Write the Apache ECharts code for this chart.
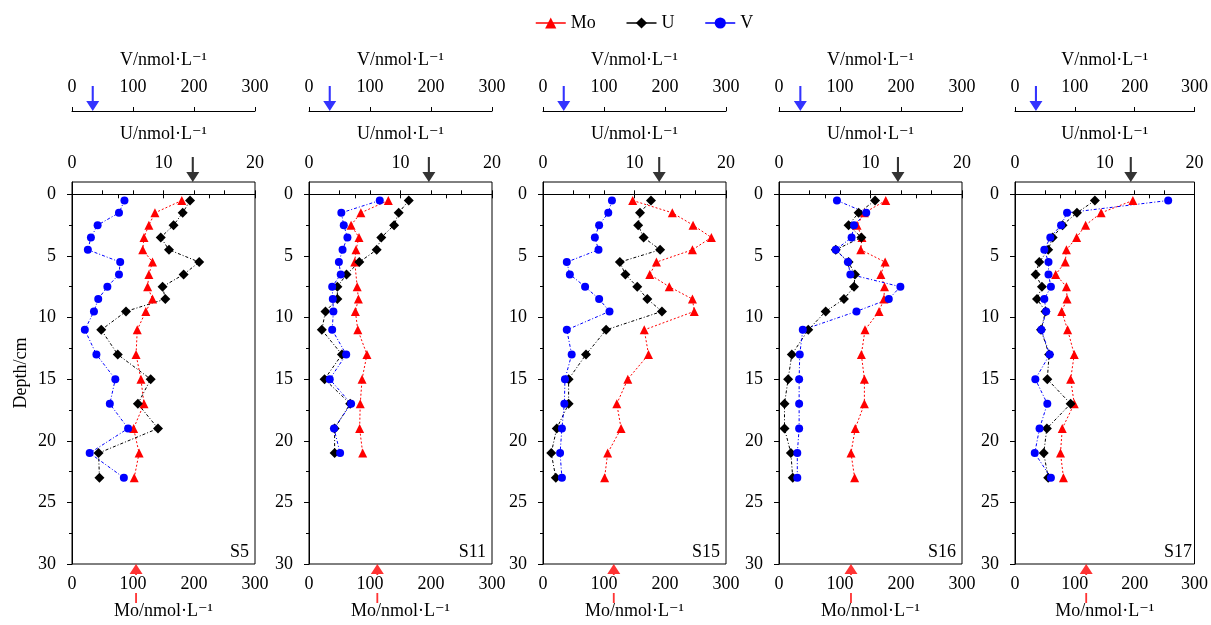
<!DOCTYPE html>
<html>
<head>
<meta charset="utf-8">
<title>Mo, U, V porewater profiles</title>
<script src="https://cdn.jsdelivr.net/npm/echarts@6/dist/echarts.min.js"></script>
<style>
  html, body { margin: 0; padding: 0; background: #fff; }
  #chart { width: 1211px; height: 625px; }
</style>
</head>
<body>
<div id="chart"></div>
<script>
// Stations and sampling depths (cm)
const stations = ['S5', 'S11', 'S15', 'S16', 'S17'];
const depthFull = [0.5, 1.5, 2.5, 3.5, 4.5, 5.5, 6.5, 7.5, 8.5, 9.5, 11, 13, 15, 17, 19, 21, 23];
const depthS11 = [0.5, 1.5, 2.5, 3.5, 4.5, 5.5, 6.5, 7.5, 8.5, 9.5, 11, 13, 15, 17, 19, 21];

// Porewater Mo (nmol/L)
const moS5  = [180, 136, 126, 118, 116, 132, 126, 124, 132, 121, 107, 105, 113, 118, 101, 110, 102];
const moS11 = [130, 85, 69, 82, 77, 75, null, 79, 81, 76, 80, 95, 87, 84, 83, 88];
const moS15 = [147, 212, 246, 276, 245, 186, 175, 207, 245, 248, 166, 173, 139, 121, 128, 106, 101];
const moS16 = [175, 140, 128, 136, 134, 174, 167, 173, 172, 164, 141, 135, 140, 140, 125, 118, 124];
const moS17 = [197, 144, 118, 103, 86, 84, 68, 86, 87, 78, 88, 99, 93, 99, 79, 76, 81];

// Porewater U (nmol/L)
const uS5  = [12.9, 12.1, 11.1, 9.7, 10.6, 13.9, 12.2, 9.9, 10.2, 5.9, 3.2, 5.0, 8.6, 7.2, 9.4, 2.9, 3.0];
const uS11 = [10.9, 9.8, 9.3, 7.9, 7.4, 5.5, 4.1, 3.1, 3.1, 1.8, 1.4, 3.6, 1.7, 4.5, 2.8, 2.8];
const uS15 = [11.8, 10.6, 10.4, 11.0, 12.8, 8.4, 9.0, 10.3, 11.4, 13.0, 6.9, 4.7, 2.8, 2.8, 1.5, 0.9, 1.4];
const uS16 = [10.5, 8.7, 7.6, 9.0, 6.2, 7.6, 8.3, 8.2, 7.1, 5.1, 3.2, 1.4, 1.0, 0.6, 0.6, 1.3, 1.5];
const uS17 = [8.9, 6.9, 5.3, 4.2, 3.7, 2.7, 2.3, 3.0, 2.45, 3.4, 2.9, 3.8, 3.6, 6.2, 3.55, 3.2, 3.7];

// Porewater V (nmol/L)
const vS5  = [86, 77, 42, 31, 26, 79, 77, 58, 43, 36, 21, 40, 71, 62, 92, 29, 85];
const vS11 = [116, 53, 57, 63, 55, 49, 52, 38, 39, 40, 38, 61, 34, 69, 41, 51];
const vS15 = [113, 107, 92, 85, 91, 39, 44, 69, 92, 109, 39, 47, 36, 35, 31, 28, 31];
const vS16 = [95, 143, 123, 119, 93, 113, 117, 199, 180, 127, 39, 34, 33, 33, 33, 30, 30];
const vS17 = [256, 87, 77, 59, 49, 56, 56, 60, 49, 52, 44, 58, 34, 54, 41, 33, 60];

// Bottom-water concentrations (arrows on each axis)
const moBottom = [105, 112, 116, 118, 119];
const uBottom  = [13.2, 13.1, 12.7, 13.0, 12.9];
const vBottom  = [34, 34, 34, 35, 35];

// Depth axis ticks
const depthMin = -1;
const depthMax = 30;
const depthTicks = [0, 5, 10, 15, 20, 25, 30];
const depthMinorTicks = [2.5, 7.5, 12.5, 17.5, 22.5, 27.5];

const depthList = [depthFull, depthS11, depthFull, depthFull, depthFull];
const moList = [moS5, moS11, moS15, moS16, moS17];
const uList  = [uS5, uS11, uS15, uS16, uS17];
const vList  = [vS5, vS11, vS15, vS16, vS17];

const FONT = '"Liberation Serif", "Times New Roman", "DejaVu Serif", serif';
const FS = 18;
const RED = '#ff0000', BLACK = '#000000', BLUE = '#0000ff';

// Panel layout
const panelLeft = [72, 309, 543, 779, 1015];
const panelWidth = 183;
const gridTop = 182;
const gridHeight = 386;
const vAxisOffset = 71;

// Arrow glyphs: shaft plus triangular head
const ARROW_DOWN = 'path://M42,0L58,0L58,120L100,120L50,200L0,120L42,120Z';
const ARROW_UP = 'path://M50,0L100,100L57,100L57,390L43,390L43,100L0,100Z';

function pairs(xs, ys) {
  return ys.map((d, k) => [xs[k], d]);
}

const grids = [], xAxes = [], yAxes = [], series = [], graphics = [];
const textBase = { fontFamily: FONT, fontSize: FS, color: '#000' };

stations.forEach((st, i) => {
  grids.push({
    left: panelLeft[i], top: gridTop, width: panelWidth, height: gridHeight,
    show: true, borderColor: '#000', borderWidth: 1, backgroundColor: 'transparent'
  });

  // U axis (top of frame)
  xAxes.push({
    type: 'value', gridIndex: i, position: 'top', min: 0, max: 20, interval: 10,
    name: 'U/nmol·L⁻¹', nameLocation: 'middle', nameGap: 39, nameTextStyle: textBase,
    axisLine: { show: true, lineStyle: { color: '#000', width: 1 } },
    axisTick: { show: true, inside: true, length: 4, lineStyle: { color: '#000' } },
    minorTick: { show: true, splitNumber: 2, length: 4, lineStyle: { color: '#000' } },
    axisLabel: Object.assign({ margin: 10 }, textBase),
    splitLine: { show: false }, minorSplitLine: { show: false }
  });
  // Mo axis (bottom of frame)
  xAxes.push({
    type: 'value', gridIndex: i, position: 'bottom', min: 0, max: 300, interval: 100, z: 3,
    name: 'Mo/nmol·L⁻¹', nameLocation: 'middle', nameGap: 38, nameTextStyle: textBase,
    axisLine: { show: true, lineStyle: { color: '#000', width: 1 } },
    axisTick: { show: true, inside: true, length: 4, lineStyle: { color: '#000' } },
    minorTick: { show: true, splitNumber: 2, length: 4, lineStyle: { color: '#000' } },
    axisLabel: Object.assign({ margin: 11, backgroundColor: '#fff' }, textBase),
    splitLine: { show: false }, minorSplitLine: { show: false }
  });
  // V axis (detached, above the frame)
  xAxes.push({
    type: 'value', gridIndex: i, position: 'top', offset: vAxisOffset, min: 0, max: 300, interval: 100,
    name: 'V/nmol·L⁻¹', nameLocation: 'middle', nameGap: 42, nameTextStyle: textBase,
    axisLine: { show: true, lineStyle: { color: '#000', width: 1 } },
    axisTick: { show: true, inside: false, length: 4, lineStyle: { color: '#000' } },
    axisLabel: Object.assign({ margin: 15 }, textBase),
    splitLine: { show: false }
  });

  // Depth axis
  yAxes.push({
    type: 'value', gridIndex: i, position: 'left', inverse: true, min: depthMin, max: depthMax,
    name: i === 0 ? 'Depth/cm' : '', nameLocation: 'middle', nameGap: 42, nameRotate: 90,
    nameTextStyle: textBase,
    axisLine: { show: true, lineStyle: { color: '#000', width: 1 } },
    axisTick: { show: true, inside: false, length: 5, customValues: depthTicks, lineStyle: { color: '#000' } },
    axisLabel: Object.assign({ margin: 16, customValues: depthTicks }, textBase),
    splitLine: { show: false }
  });
  // Minor depth ticks
  yAxes.push({
    type: 'value', gridIndex: i, position: 'left', inverse: true, min: depthMin, max: depthMax,
    axisLine: { show: false },
    axisTick: { show: true, inside: false, length: 3, customValues: depthMinorTicks, lineStyle: { color: '#000' } },
    axisLabel: { show: false },
    splitLine: { show: false }
  });

  const xi = 3 * i, yi = 2 * i;
  const common = { type: 'line', yAxisIndex: yi, connectNulls: true, animation: false, clip: false };

  series.push(Object.assign({}, common, {
    name: 'Mo', xAxisIndex: xi + 1, data: pairs(moList[i], depthList[i]),
    symbol: 'triangle', symbolSize: 9,
    itemStyle: { color: RED }, lineStyle: { color: RED, width: 1, type: [2, 2] }
  }));
  series.push(Object.assign({}, common, {
    name: 'U', xAxisIndex: xi, data: pairs(uList[i], depthList[i]),
    symbol: 'diamond', symbolSize: 10,
    itemStyle: { color: BLACK }, lineStyle: { color: BLACK, width: 1, type: [3, 2, 1, 2] }
  }));
  series.push(Object.assign({}, common, {
    name: 'V', xAxisIndex: xi + 2, data: pairs(vList[i], depthList[i]),
    symbol: 'circle', symbolSize: 8,
    itemStyle: { color: BLUE }, lineStyle: { color: BLUE, width: 1, type: [3, 2, 1, 2] }
  }));

  // Bottom-water arrows
  series.push({
    type: 'scatter', name: 'V bottom water', xAxisIndex: xi + 2, yAxisIndex: yi, clip: false, animation: false,
    data: [[vBottom[i], depthMin]], symbol: ARROW_DOWN, symbolSize: [13, 25],
    symbolOffset: [0, -(vAxisOffset + 12.5)], itemStyle: { color: BLUE }, silent: true
  });
  series.push({
    type: 'scatter', name: 'U bottom water', xAxisIndex: xi, yAxisIndex: yi, clip: false, animation: false,
    data: [[uBottom[i], depthMin]], symbol: ARROW_DOWN, symbolSize: [13, 25],
    symbolOffset: [0, -12.5], itemStyle: { color: BLACK }, silent: true
  });
  series.push({
    type: 'scatter', name: 'Mo bottom water', xAxisIndex: xi + 1, yAxisIndex: yi, clip: false, animation: false,
    data: [[moBottom[i], depthMax]], symbol: ARROW_UP, symbolSize: [13, 39],
    symbolOffset: [0, 19.5], itemStyle: { color: RED }, silent: true, z: 1
  });

  // Station label
  graphics.push({
    type: 'text', x: panelLeft[i] + panelWidth - 6, y: 552,
    style: { text: st, align: 'right', verticalAlign: 'middle', font: FS + 'px ' + FONT, fill: '#000' }
  });
});

const chart = echarts.init(document.getElementById('chart'), null, { renderer: 'canvas' });
chart.setOption({
  animation: false,
  backgroundColor: '#fff',
  legend: {
    data: ['Mo', 'U', 'V'], left: 530, top: 9, itemWidth: 30, itemHeight: 14, itemGap: 30,
    textStyle: textBase, lineStyle: { type: 'solid', width: 1.5 }
  },
  grid: grids,
  xAxis: xAxes,
  yAxis: yAxes,
  series: series,
  graphic: graphics
});
</script>
</body>
</html>
